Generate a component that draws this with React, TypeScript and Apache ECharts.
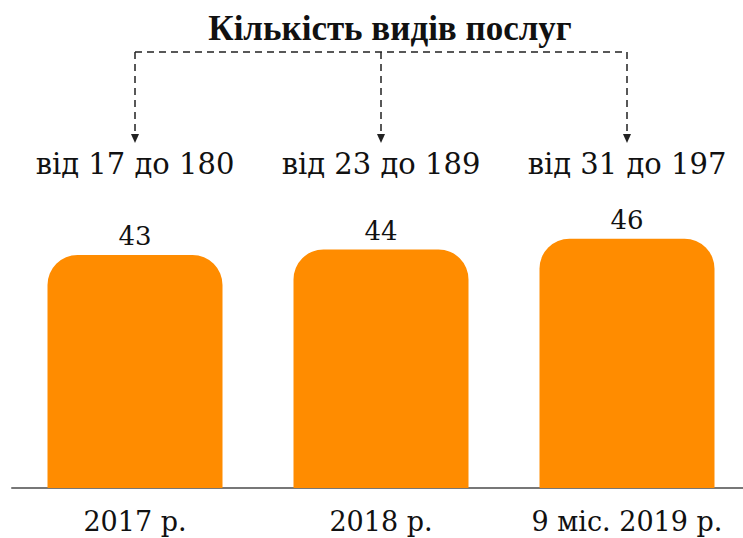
import React, { useEffect, useRef } from "react";
import * as echarts from "echarts";

const titleText = "Кількість видів послуг";
const categories = ["2017 р.", "2018 р.", "9 міс. 2019 р."];
const values = [43, 44, 46];
const ranges = ["від 17 до 180", "від 23 до 189", "від 31 до 197"];

const FONT = "DejaVu Serif";
const TITLE_FONT = "Liberation Serif";

export default function App() {
  const ref = useRef<HTMLDivElement>(null);
  useEffect(() => {
    if (!ref.current) return;
    const chart = echarts.init(ref.current, null, { renderer: "svg" });
    chart.setOption({
      animation: false,
      backgroundColor: "#ffffff",
      grid: { left: 12, width: 738, top: 217, bottom: 50, outerBoundsMode: "none" },
      xAxis: {
        type: "category",
        data: categories,
        axisLine: { show: true, lineStyle: { color: "#777777", width: 2 } },
        axisTick: { show: false },
        axisLabel: {
          interval: 0,
          hideOverlap: false,
          fontFamily: FONT,
          fontSize: 27,
          color: "#111",
          margin: 20,
        },
      },
      yAxis: {
        type: "value",
        min: 0,
        max: 50,
        show: false,
        splitLine: { show: false },
      },
      series: [
        {
          type: "bar",
          data: values,
          barWidth: 175,
          itemStyle: { color: "#FF8C00", borderRadius: [30, 30, 0, 0] },
          label: {
            show: true,
            position: "top",
            distance: 6,
            fontFamily: FONT,
            fontSize: 26,
            color: "#111",
          },
        },
      ],
    });

    const xs = categories.map((c) => chart.convertToPixel({ xAxisIndex: 0 }, c) as number);
    const yTop = 52;
    const yEnd = 136;
    const lineStyle = { stroke: "#222", lineWidth: 1.5, lineDash: [7, 5] };
    const graphics: any[] = [
      {
        type: "text",
        x: 390,
        y: 28,
        style: {
          text: titleText,
          fontFamily: TITLE_FONT,
          fontWeight: "bold",
          fontSize: 35,
          fill: "#111",
          textAlign: "center",
          textVerticalAlign: "middle",
        },
      },
      {
        type: "line",
        shape: { x1: xs[0], y1: yTop, x2: xs[xs.length - 1], y2: yTop },
        style: lineStyle,
      },
    ];
    xs.forEach((x, i) => {
      graphics.push({
        type: "line",
        shape: { x1: x, y1: yTop, x2: x, y2: yEnd },
        style: lineStyle,
      });
      graphics.push({
        type: "polygon",
        shape: { points: [[x - 4, yEnd - 2], [x + 4, yEnd - 2], [x, yEnd + 7]] },
        style: { fill: "#222" },
      });
      graphics.push({
        type: "text",
        x,
        y: 164,
        style: {
          text: ranges[i],
          fontFamily: FONT,
          fontSize: 29,
          fill: "#111",
          textAlign: "center",
          textVerticalAlign: "middle",
        },
      });
    });
    chart.setOption({ graphic: graphics });
    return () => chart.dispose();
  }, []);
  return (
    <div
      ref={ref}
      style={{ position: "absolute", left: 0, top: 0, width: 743, height: 538 }}
    />
  );
}
